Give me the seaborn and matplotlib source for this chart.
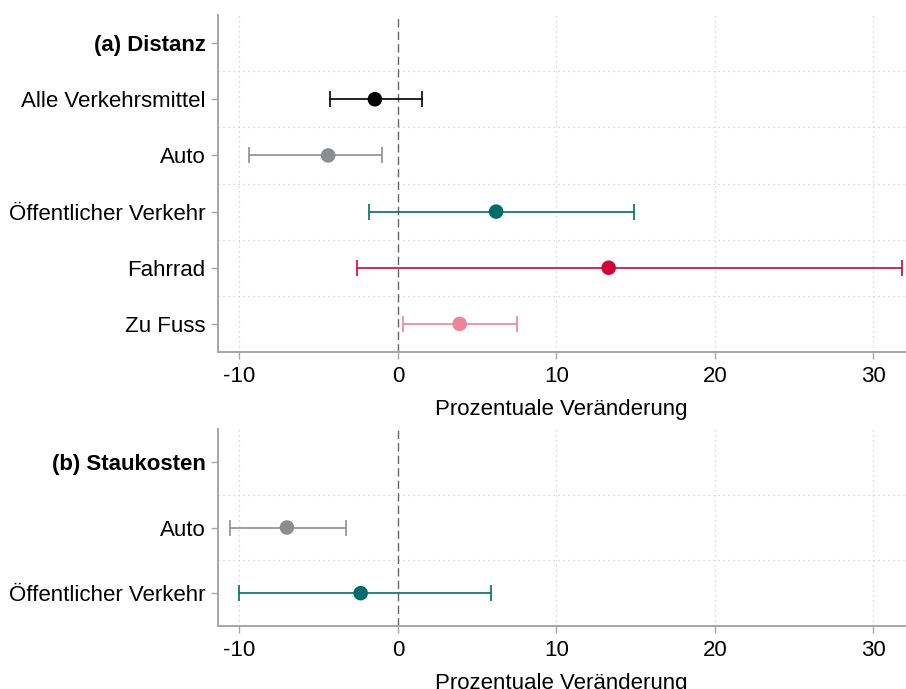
import matplotlib
matplotlib.use("Agg")
import matplotlib.pyplot as plt
import seaborn as sns
import pandas as pd

sns.set_theme(style="white")
plt.rcParams["font.family"] = ["Liberation Sans", "DejaVu Sans"]
plt.rcParams["text.color"] = "#000000"
plt.rcParams["axes.labelcolor"] = "#000000"

# Panel (a): distance
dist_title = "(a) Distanz"
dist_modes = ["Alle Verkehrsmittel", "Auto", "Öffentlicher Verkehr", "Fahrrad", "Zu Fuss"]
dist_est = [-1.45, -4.4, 6.2, 13.3, 3.9]
dist_lo = [-4.3, -9.4, -1.8, -2.6, 0.3]
dist_hi = [1.5, -1.0, 14.9, 31.8, 7.5]

# Panel (b): congestion costs
stau_title = "(b) Staukosten"
stau_modes = ["Auto", "Öffentlicher Verkehr"]
stau_est = [-7.0, -2.35]
stau_lo = [-10.6, -10.0]
stau_hi = [-3.3, 5.9]

colors = {
    "Alle Verkehrsmittel": "#000000",
    "Auto": "#8b8e91",
    "Öffentlicher Verkehr": "#006d6b",
    "Fahrrad": "#d20537",
    "Zu Fuss": "#ec849c",
}

xticks = [-10, 0, 10, 20, 30]
xlabel = "Prozentuale Veränderung"
FS = 16

W, H = 906, 689
fig = plt.figure(figsize=(W / 100, H / 100), dpi=100)


def panel(rect, title, modes, est, lo, hi):
    ax = fig.add_axes(rect)
    rows = [title] + modes
    df = pd.DataFrame({
        "mode": modes,
        "est": est,
        "lo": lo,
        "hi": hi,
        "pos": [rows.index(m) for m in modes],
    })
    for _, r in df.iterrows():
        c = colors[r["mode"]]
        ax.errorbar([r["est"]], [r["pos"]],
                    xerr=[[r["est"] - r["lo"]], [r["hi"] - r["est"]]],
                    fmt="none", ecolor=c, elinewidth=1.2, capsize=6,
                    capthick=1.2, zorder=3)
    sns.scatterplot(data=df, x="est", y="pos", hue="mode",
                    palette=colors, s=110, edgecolor="none",
                    legend=False, ax=ax, zorder=4)

    ax.set_xlim(-11.35, 32.0)
    ax.set_ylim(len(rows) - 0.5, -0.5)
    ax.set_xticks(xticks)
    ax.set_xticklabels([str(t) for t in xticks], fontsize=FS)
    ax.set_yticks(range(len(rows)))
    ax.set_yticklabels(rows, fontsize=FS)
    lbls = ax.get_yticklabels()
    lbls[0].set_fontweight("bold")
    ax.yaxis.get_major_ticks()[0].tick1line.set_visible(False)

    # dotted grid: vertical at ticks, horizontal between rows
    for t in xticks:
        if t != 0:
            ax.axvline(t, color="#cccccc", lw=0.9, ls=(0, (1, 3)), zorder=1)
    for k in range(len(rows) - 1):
        ax.axhline(k + 0.5, color="#cccccc", lw=0.9, ls=(0, (1, 3)), zorder=1)
    ax.axvline(0, color="#666666", lw=1.0, ls=(0, (6, 3)), zorder=2)

    for s in ["top", "right"]:
        ax.spines[s].set_visible(False)
    for s in ["left", "bottom"]:
        ax.spines[s].set_color("#a6a6a6")
        ax.spines[s].set_linewidth(1.4)
    ax.tick_params(axis="both", length=5, width=1.0, color="#a6a6a6",
                   labelcolor="#000000", pad=4, left=True, bottom=True)
    ax.tick_params(axis="x", pad=5)
    ax.set_xlabel(xlabel, fontsize=FS, labelpad=8.5, color="#000000")
    ax.set_ylabel("")
    return ax


def rect(left, top, right, bottom):
    return [left / W, 1 - bottom / H, (right - left) / W, (bottom - top) / H]


panel(rect(218, 15, 905, 352), dist_title, dist_modes, dist_est, dist_lo, dist_hi)
panel(rect(218, 429, 905, 626), stau_title, stau_modes, stau_est, stau_lo, stau_hi)

fig.savefig("out.png", dpi=100)
